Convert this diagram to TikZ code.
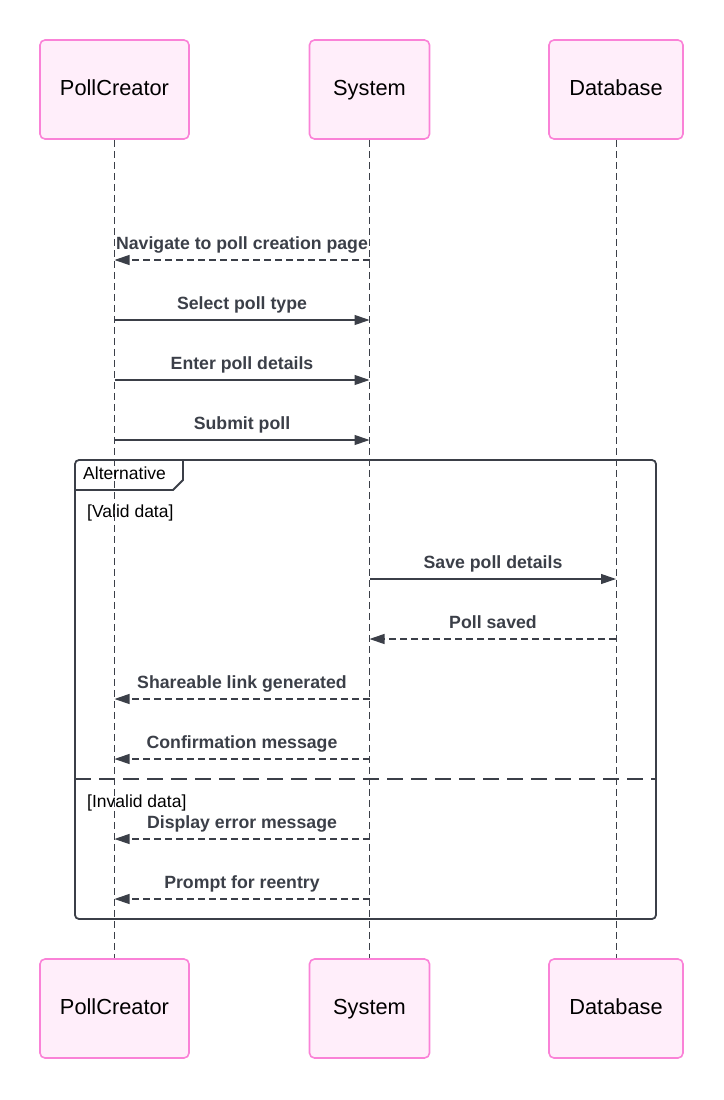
\documentclass[tikz,border=0pt]{standalone}
\usepackage{fontspec}
\setmainfont{Liberation Sans}
\usetikzlibrary{arrows.meta}
\definecolor{ink}{RGB}{59,63,72}
\definecolor{actfill}{RGB}{255,238,250}
\definecolor{actdraw}{RGB}{250,130,215}
\tikzset{
  actor/.style={draw=actdraw, fill=actfill, line width=1.6pt, rounded corners=5pt,
    minimum height=99pt, inner sep=0pt, text height=15.5pt, text depth=4.5pt,
    font=\fontsize{21.8}{24}\selectfont, text=black},
  life/.style={draw=ink, line width=0.9pt, dash pattern=on 7pt off 4pt},
  msg/.style={draw=ink, line width=1.1pt, -{Triangle[length=15pt,width=10pt]}},
  reply/.style={msg, dash pattern=on 7pt off 4pt},
  mlabel/.style={anchor=base, text=ink, font=\fontsize{17.7}{20}\selectfont\bfseries, inner sep=0pt},
  flabel/.style={anchor=base west, text=black, font=\fontsize{17.5}{20}\selectfont, inner sep=0pt},
  frame/.style={draw=ink, line width=1.8pt}
}
\begin{document}
\begin{tikzpicture}[x=1pt,y=-1pt]
\useasboundingbox (0,0) rectangle (723,1100);
% actors
\node[actor, minimum width=149pt] (pcT) at (114.5,89.5) {PollCreator};
\node[actor, minimum width=120pt] (sysT) at (369.5,89.5) {System};
\node[actor, minimum width=134pt] (dbT) at (616,89.5) {Database};
\node[actor, minimum width=149pt] (pcB) at (114.5,1008.5) {PollCreator};
\node[actor, minimum width=120pt] (sysB) at (369.5,1008.5) {System};
\node[actor, minimum width=134pt] (dbB) at (616,1008.5) {Database};
% lifelines
\draw[life] (pcT.south) -- (pcB.north);
\draw[life] (sysT.south) -- (sysB.north);
\draw[life] (dbT.south) -- (dbB.north);
% frame
\coordinate (fTL) at (75,460);
\coordinate (fBR) at (656,919);
\draw[frame, rounded corners=4pt] (fTL) rectangle (fBR);
\draw[frame] (75,490) -- (173,490) -- (183,480) -- (183,460);
\node[flabel] (alt) at (83,479) {Alternative};
\node[flabel] (g1) at (87,517) {[Valid data]};
\draw[frame, dash pattern=on 16pt off 8pt] (75,779) -- (656,779);
\node[flabel] (g2) at (87,807) {[Invalid data]};
% messages
\draw[reply] (sysT |- 0,260) -- (pcT |- 0,260);
\node[mlabel] (l1) at (242,249) {Navigate to poll creation page};
\draw[msg] (pcT |- 0,320) -- (sysT |- 0,320);
\node[mlabel] (l2) at (242,309) {Select poll type};
\draw[msg] (pcT |- 0,380) -- (sysT |- 0,380);
\node[mlabel] (l3) at (242,369) {Enter poll details};
\draw[msg] (pcT |- 0,440) -- (sysT |- 0,440);
\node[mlabel] (l4) at (242,429) {Submit poll};
\draw[msg] (sysT |- 0,579) -- (dbT |- 0,579);
\node[mlabel] (l5) at (493,568) {Save poll details};
\draw[reply] (dbT |- 0,639) -- (sysT |- 0,639);
\node[mlabel] (l6) at (493,628) {Poll saved};
\draw[reply] (sysT |- 0,699) -- (pcT |- 0,699);
\node[mlabel] (l7) at (242,688) {Shareable link generated};
\draw[reply] (sysT |- 0,759) -- (pcT |- 0,759);
\node[mlabel] (l8) at (242,748) {Confirmation message};
\draw[reply] (sysT |- 0,839) -- (pcT |- 0,839);
\node[mlabel] (l9) at (242,828) {Display error message};
\draw[reply] (sysT |- 0,899) -- (pcT |- 0,899);
\node[mlabel] (l10) at (242,888) {Prompt for reentry};
\end{tikzpicture}
\end{document}
